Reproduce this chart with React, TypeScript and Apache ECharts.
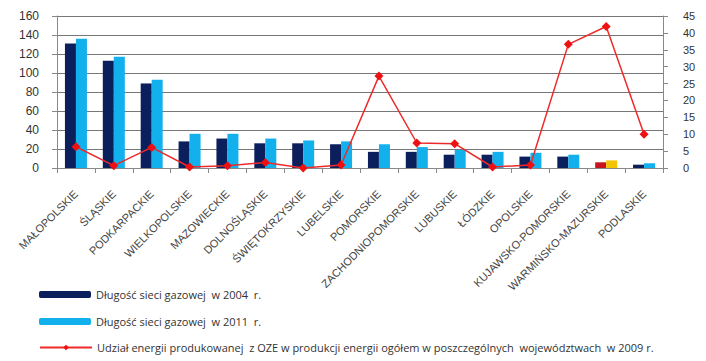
import React, { useEffect, useRef } from "react";
import * as echarts from "echarts";

const categories = [
  "MAŁOPOLSKIE", "ŚLĄSKIE", "PODKARPACKIE", "WIELKOPOLSKIE", "MAZOWIECKIE",
  "DOLNOŚLĄSKIE", "ŚWIĘTOKRZYSKIE", "LUBELSKIE", "POMORSKIE", "ZACHODNIOPOMORSKIE",
  "LUBUSKIE", "ŁÓDZKIE", "OPOLSKIE", "KUJAWSKO-POMORSKIE", "WARMIŃSKO-MAZURSKIE", "PODLASKIE",
];
const gas2004 = [131, 113, 89, 28, 31, 26, 26, 25, 17, 17, 14, 14, 12, 12, 6, 3.5];
const gas2011 = [136, 117, 93, 36, 36, 31, 29, 28, 25, 22, 19, 17, 16, 14, 8, 5];
const ozeShare = [6.3, 0.7, 6.1, 0.3, 0.7, 1.6, 0, 0.9, 27.2, 7.4, 7.2, 0.3, 0.9, 36.6, 41.9, 10];
const leftTicks = { min: 0, max: 160, interval: 20 };
const rightTicks = { min: 0, max: 45, interval: 5 };
const highlightIndex = 14;

const names = [
  "Długość sieci gazowej  w 2004  r.",
  "Długość sieci gazowej  w 2011  r.",
  "Udział energii produkowanej  z OZE w produkcji energii ogółem w poszczególnych  województwach  w 2009 r.",
];

export default function App() {
  const ref = useRef<HTMLDivElement>(null);
  useEffect(() => {
    const chart = echarts.init(ref.current!, null, { renderer: "svg" });
    const font = "Liberation Sans";
    const legendBase = {
      orient: "vertical",
      left: 39,
      itemWidth: 52,
      itemHeight: 7,
      padding: 0,
      textStyle: { fontSize: 11, color: "#333", fontFamily: "Open Sans" },
    };
    chart.setOption({
      animation: false,
      textStyle: { fontFamily: font },
      grid: { left: 57, right: 43, top: 16, bottom: 193 },
      legend: [
        { ...legendBase, top: 289, data: [names[0]] },
        { ...legendBase, top: 316, data: [names[1]] },
        { ...legendBase, top: 342, data: [names[2]] },
      ],
      xAxis: {
        type: "category",
        data: categories,
        axisLine: { lineStyle: { color: "#888" } },
        axisTick: { show: true, lineStyle: { color: "#888" }, length: 5 },
        axisLabel: { rotate: 45, fontSize: 11, color: "#444", interval: 0, margin: 24 },
      },
      yAxis: [
        {
          type: "value",
          ...leftTicks,
          axisLine: { show: true, lineStyle: { color: "#888" } },
          axisTick: { show: true, lineStyle: { color: "#888" } },
          axisLabel: { fontSize: 12, color: "#333", margin: 18 },
          splitLine: { lineStyle: { color: "#777" } },
        },
        {
          type: "value",
          ...rightTicks,
          position: "right",
          axisLine: { show: true, lineStyle: { color: "#888" } },
          axisTick: { show: true, lineStyle: { color: "#888" } },
          axisLabel: { fontSize: 11, color: "#333", margin: 20 },
          splitLine: { show: false },
        },
      ],
      series: [
        {
          name: names[0],
          type: "bar",
          barWidth: 11,
          barGap: "0%",
          itemStyle: { color: "#0b1f5c" },
          data: gas2004.map((v, i) =>
            i === highlightIndex ? { value: v, itemStyle: { color: "#c8141e" } } : v
          ),
        },
        {
          name: names[1],
          type: "bar",
          barWidth: 11,
          barGap: "0%",
          itemStyle: { color: "#13b0ee" },
          data: gas2011.map((v, i) =>
            i === highlightIndex ? { value: v, itemStyle: { color: "#f5c400" } } : v
          ),
        },
        {
          name: names[2],
          type: "line",
          yAxisIndex: 1,
          data: ozeShare,
          symbol: "diamond",
          symbolSize: 9,
          lineStyle: { color: "#ee2a2a", width: 1.5 },
          itemStyle: { color: "#ee1111" },
        },
      ],
    });
    return () => chart.dispose();
  }, []);
  return <div ref={ref} style={{ width: 706, height: 361, position: "absolute", left: 0, top: 0, background: "#fff" }} />;
}
